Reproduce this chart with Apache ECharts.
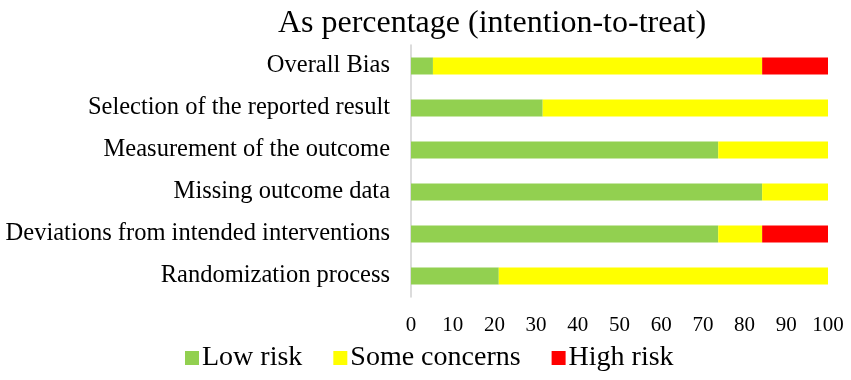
<!DOCTYPE html>
<html>
<head>
<meta charset="utf-8">
<script src="https://cdn.jsdelivr.net/npm/echarts@6/dist/echarts.min.js"></script>
<style>
  html, body { margin: 0; padding: 0; background: #fff; }
  #main { width: 851px; height: 380px; }
</style>
</head>
<body>
<div id="main"></div>
<script>
// domains, bottom to top (19 studies)
var domains = [
    'Randomization process',
    'Deviations from intended interventions',
    'Missing outcome data',
    'Measurement of the outcome',
    'Selection of the reported result',
    'Overall Bias'
];
var lowRisk = [21.05, 73.68, 84.21, 73.68, 31.58, 5.26];
var someConcerns = [78.95, 10.53, 15.79, 26.32, 68.42, 78.95];
var highRisk = [0, 15.79, 0, 0, 0, 15.79];

var font = '"Liberation Serif", "Times New Roman", serif';

var chart = echarts.init(document.getElementById('main'));

function bar(name, data, color) {
    return {
        name: name,
        type: 'bar',
        stack: 'risk',
        barWidth: 17,
        data: data,
        itemStyle: { color: color },
        emphasis: { disabled: true }
    };
}

chart.setOption({
    animation: false,
    title: {
        text: 'As percentage (intention-to-treat)',
        left: 487,
        top: 3,
        textAlign: 'center',
        textStyle: { fontFamily: font, fontSize: 32, fontWeight: 'normal', color: '#000' }
    },
    grid: { left: 411, right: 23, top: 45, height: 252 },
    legend: {
        left: 180,
        top: 339,
        itemWidth: 14,
        itemHeight: 14,
        itemGap: 31,
        icon: 'rect',
        textStyle: { fontFamily: font, fontSize: 28, color: '#000', padding: [0, 0, 0, -2] },
        data: ['Low risk', 'Some concerns', 'High risk']
    },
    xAxis: {
        type: 'value',
        min: 0,
        max: 100,
        interval: 10,
        axisLine: { show: false },
        axisTick: { show: false },
        splitLine: { show: false },
        axisLabel: { fontFamily: font, fontSize: 21, color: '#000', margin: 18 }
    },
    yAxis: {
        type: 'category',
        data: domains,
        axisLine: { lineStyle: { color: '#d0d0d0', width: 1.5 } },
        axisTick: { show: false },
        axisLabel: { fontFamily: font, fontSize: 24.5, color: '#000', margin: 21 }
    },
    series: [
        bar('Low risk', lowRisk, '#92d050'),
        bar('Some concerns', someConcerns, '#ffff00'),
        bar('High risk', highRisk, '#ff0000')
    ]
});
</script>
</body>
</html>
